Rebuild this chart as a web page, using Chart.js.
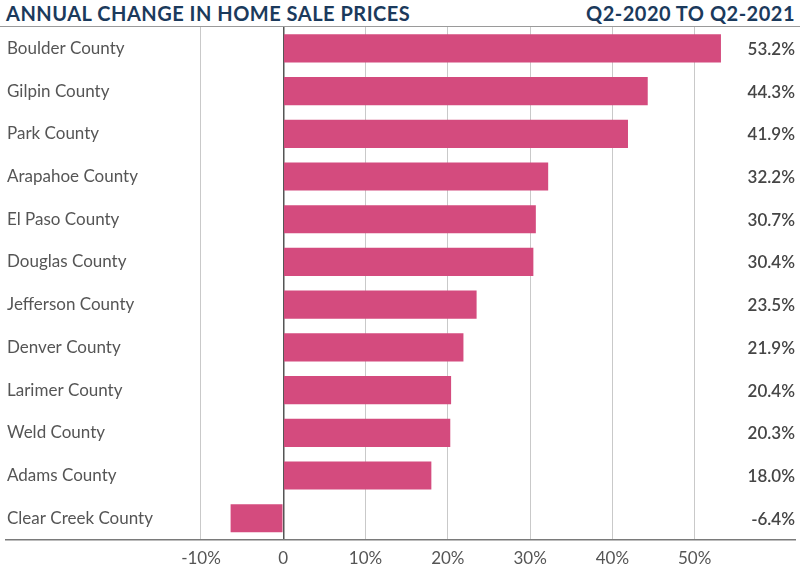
<!DOCTYPE html>
<html>
<head>
<meta charset="utf-8">
<script src="https://cdn.jsdelivr.net/npm/chart.js@4.4.1/dist/chart.umd.min.js"></script>
<style>
  body { margin: 0; background: #fff; }
  #header {
    width: 789px; height: 26px;
    border-bottom: 1px solid #9a9a9a;
    display: flex; justify-content: space-between; align-items: center;
    font-family: Lato, sans-serif; font-weight: 700; font-size: 20px;
    letter-spacing: 0.5px; color: #1b3a5c;
    padding: 0 5px 0 6px; box-sizing: content-box; line-height: 26px;
  }
  #wrap { position: relative; width: 800px; height: 553px; }
</style>
</head>
<body>
<div id="header"><span>ANNUAL CHANGE IN HOME SALE PRICES</span><span>Q2-2020 TO Q2-2021</span></div>
<div id="wrap"><canvas id="priceChart"></canvas></div>
<script>
const counties = [
  "Boulder County", "Gilpin County", "Park County", "Arapahoe County",
  "El Paso County", "Douglas County", "Jefferson County", "Denver County",
  "Larimer County", "Weld County", "Adams County", "Clear Creek County"
];
const changes = [53.2, 44.3, 41.9, 32.2, 30.7, 30.4, 23.5, 21.9, 20.4, 20.3, 18.0, -6.4];
const tickValues = [-10, 0, 10, 20, 30, 40, 50];

document.addEventListener("DOMContentLoaded", function () {
  const ctx = document.getElementById("priceChart");

  // percentage printed at the right edge of each row
  const valueLabels = {
    id: "valueLabels",
    afterDatasetsDraw(chart) {
      const c = chart.ctx;
      const yScale = chart.scales.y;
      c.save();
      c.font = "600 17px Lato, sans-serif";
      c.fillStyle = "#454545";
      c.textAlign = "right";
      c.textBaseline = "middle";
      changes.forEach((v, i) => {
        c.fillText(v.toFixed(1) + "%", chart.chartArea.right, yScale.getPixelForValue(i) + 1);
      });
      c.restore();
    },
  };

  new Chart(ctx, {
    type: "bar",
    data: {
      labels: counties,
      datasets: [{
        data: changes,
        backgroundColor: "#d44b7e",
        borderWidth: 0,
        barPercentage: 0.66,
        categoryPercentage: 1,
      }],
    },
    options: {
      indexAxis: "y",
      responsive: true,
      maintainAspectRatio: false,
      animation: false,
      layout: { padding: { left: 6, right: 5, top: 0, bottom: 2 } },
      plugins: { legend: { display: false }, tooltip: { enabled: false } },
      scales: {
        x: {
          min: -33.7,
          max: 62.2,
          afterBuildTicks(scale) {
            scale.ticks = tickValues.map((v) => ({ value: v }));
          },
          grid: {
            drawTicks: false,
            color: (c) => (c.tick && c.tick.value === 0 ? "#555" : "#c9c9c9"),
            lineWidth: (c) => (c.tick && c.tick.value === 0 ? 1.5 : 1),
          },
          border: { display: true, color: "#7a7a7a", width: 1.5 },
          ticks: {
            padding: 9,
            color: "#555",
            font: { family: "Lato", size: 17 },
            callback: (v) => (v === 0 ? "0" : v + "%"),
          },
        },
        y: {
          afterFit(scale) {
            scale.width = 0;
            scale.paddingTop = 0;
            scale.paddingBottom = 0;
          },
          grid: { display: false, drawTicks: false },
          border: { display: false },
          ticks: {
            mirror: true,
            padding: 1,
            color: "#555",
            font: { family: "Lato", size: 17 },
          },
        },
      },
    },
    plugins: [valueLabels],
  });
});
</script>
</body>
</html>
